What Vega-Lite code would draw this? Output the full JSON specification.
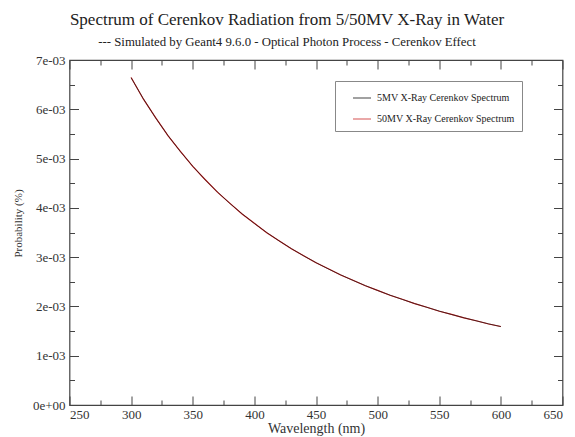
{
  "$schema": "https://vega.github.io/schema/vega-lite/v6.json",
  "width": 493,
  "height": 345,
  "autosize": {"type": "none"},
  "padding": {"left": 69.5, "top": 60, "right": 12.5, "bottom": 32},
  "background": "white",
  "title": {
    "text": "Spectrum of Cerenkov Radiation from 5/50MV X-Ray in Water",
    "subtitle": "--- Simulated by Geant4 9.6.0 - Optical Photon Process - Cerenkov Effect",
    "anchor": "middle",
    "dx": -29,
    "font": "Liberation Serif",
    "fontSize": 17,
    "fontWeight": "normal",
    "color": "#222222",
    "subtitleFont": "Liberation Serif",
    "subtitleFontSize": 12.8,
    "subtitleColor": "#222222",
    "subtitlePadding": 7,
    "offset": 4
  },
  "data": {
    "values": [
      {"wl": 300, "p": 0.006640, "s": "5MV X-Ray Cerenkov Spectrum"},
      {"wl": 310, "p": 0.006210, "s": "5MV X-Ray Cerenkov Spectrum"},
      {"wl": 320, "p": 0.005820, "s": "5MV X-Ray Cerenkov Spectrum"},
      {"wl": 330, "p": 0.005465, "s": "5MV X-Ray Cerenkov Spectrum"},
      {"wl": 340, "p": 0.005141, "s": "5MV X-Ray Cerenkov Spectrum"},
      {"wl": 350, "p": 0.004844, "s": "5MV X-Ray Cerenkov Spectrum"},
      {"wl": 360, "p": 0.004572, "s": "5MV X-Ray Cerenkov Spectrum"},
      {"wl": 370, "p": 0.004322, "s": "5MV X-Ray Cerenkov Spectrum"},
      {"wl": 380, "p": 0.004092, "s": "5MV X-Ray Cerenkov Spectrum"},
      {"wl": 390, "p": 0.003880, "s": "5MV X-Ray Cerenkov Spectrum"},
      {"wl": 400, "p": 0.003683, "s": "5MV X-Ray Cerenkov Spectrum"},
      {"wl": 410, "p": 0.003500, "s": "5MV X-Ray Cerenkov Spectrum"},
      {"wl": 420, "p": 0.003331, "s": "5MV X-Ray Cerenkov Spectrum"},
      {"wl": 430, "p": 0.003173, "s": "5MV X-Ray Cerenkov Spectrum"},
      {"wl": 440, "p": 0.003026, "s": "5MV X-Ray Cerenkov Spectrum"},
      {"wl": 450, "p": 0.002889, "s": "5MV X-Ray Cerenkov Spectrum"},
      {"wl": 460, "p": 0.002761, "s": "5MV X-Ray Cerenkov Spectrum"},
      {"wl": 470, "p": 0.002641, "s": "5MV X-Ray Cerenkov Spectrum"},
      {"wl": 480, "p": 0.002528, "s": "5MV X-Ray Cerenkov Spectrum"},
      {"wl": 490, "p": 0.002423, "s": "5MV X-Ray Cerenkov Spectrum"},
      {"wl": 500, "p": 0.002323, "s": "5MV X-Ray Cerenkov Spectrum"},
      {"wl": 510, "p": 0.002230, "s": "5MV X-Ray Cerenkov Spectrum"},
      {"wl": 520, "p": 0.002142, "s": "5MV X-Ray Cerenkov Spectrum"},
      {"wl": 530, "p": 0.002059, "s": "5MV X-Ray Cerenkov Spectrum"},
      {"wl": 540, "p": 0.001981, "s": "5MV X-Ray Cerenkov Spectrum"},
      {"wl": 550, "p": 0.001906, "s": "5MV X-Ray Cerenkov Spectrum"},
      {"wl": 560, "p": 0.001836, "s": "5MV X-Ray Cerenkov Spectrum"},
      {"wl": 570, "p": 0.001770, "s": "5MV X-Ray Cerenkov Spectrum"},
      {"wl": 580, "p": 0.001707, "s": "5MV X-Ray Cerenkov Spectrum"},
      {"wl": 590, "p": 0.001647, "s": "5MV X-Ray Cerenkov Spectrum"},
      {"wl": 600, "p": 0.001590, "s": "5MV X-Ray Cerenkov Spectrum"},
      {"wl": 300, "p": 0.006645, "s": "50MV X-Ray Cerenkov Spectrum"},
      {"wl": 310, "p": 0.006205, "s": "50MV X-Ray Cerenkov Spectrum"},
      {"wl": 320, "p": 0.005826, "s": "50MV X-Ray Cerenkov Spectrum"},
      {"wl": 330, "p": 0.005460, "s": "50MV X-Ray Cerenkov Spectrum"},
      {"wl": 340, "p": 0.005146, "s": "50MV X-Ray Cerenkov Spectrum"},
      {"wl": 350, "p": 0.004840, "s": "50MV X-Ray Cerenkov Spectrum"},
      {"wl": 360, "p": 0.004576, "s": "50MV X-Ray Cerenkov Spectrum"},
      {"wl": 370, "p": 0.004318, "s": "50MV X-Ray Cerenkov Spectrum"},
      {"wl": 380, "p": 0.004095, "s": "50MV X-Ray Cerenkov Spectrum"},
      {"wl": 390, "p": 0.003877, "s": "50MV X-Ray Cerenkov Spectrum"},
      {"wl": 400, "p": 0.003686, "s": "50MV X-Ray Cerenkov Spectrum"},
      {"wl": 410, "p": 0.003497, "s": "50MV X-Ray Cerenkov Spectrum"},
      {"wl": 420, "p": 0.003334, "s": "50MV X-Ray Cerenkov Spectrum"},
      {"wl": 430, "p": 0.003170, "s": "50MV X-Ray Cerenkov Spectrum"},
      {"wl": 440, "p": 0.003029, "s": "50MV X-Ray Cerenkov Spectrum"},
      {"wl": 450, "p": 0.002886, "s": "50MV X-Ray Cerenkov Spectrum"},
      {"wl": 460, "p": 0.002764, "s": "50MV X-Ray Cerenkov Spectrum"},
      {"wl": 470, "p": 0.002638, "s": "50MV X-Ray Cerenkov Spectrum"},
      {"wl": 480, "p": 0.002531, "s": "50MV X-Ray Cerenkov Spectrum"},
      {"wl": 490, "p": 0.002420, "s": "50MV X-Ray Cerenkov Spectrum"},
      {"wl": 500, "p": 0.002326, "s": "50MV X-Ray Cerenkov Spectrum"},
      {"wl": 510, "p": 0.002227, "s": "50MV X-Ray Cerenkov Spectrum"},
      {"wl": 520, "p": 0.002145, "s": "50MV X-Ray Cerenkov Spectrum"},
      {"wl": 530, "p": 0.002056, "s": "50MV X-Ray Cerenkov Spectrum"},
      {"wl": 540, "p": 0.001984, "s": "50MV X-Ray Cerenkov Spectrum"},
      {"wl": 550, "p": 0.001903, "s": "50MV X-Ray Cerenkov Spectrum"},
      {"wl": 560, "p": 0.001839, "s": "50MV X-Ray Cerenkov Spectrum"},
      {"wl": 570, "p": 0.001767, "s": "50MV X-Ray Cerenkov Spectrum"},
      {"wl": 580, "p": 0.001710, "s": "50MV X-Ray Cerenkov Spectrum"},
      {"wl": 590, "p": 0.001644, "s": "50MV X-Ray Cerenkov Spectrum"},
      {"wl": 600, "p": 0.001593, "s": "50MV X-Ray Cerenkov Spectrum"}
    ]
  },
  "resolve": {"axis": {"x": "independent", "y": "independent"}},
  "layer": [
    {
      "transform": [{"filter": "datum.s == '50MV X-Ray Cerenkov Spectrum'"}],
      "mark": {"type": "line", "strokeWidth": 1.2},
      "encoding": {
        "x": {
          "field": "wl", "type": "quantitative",
          "scale": {"domain": [250, 650], "nice": false, "zero": false},
          "axis": {
            "orient": "top", "title": null, "labels": false, "domain": false,
            "values": [250, 300, 350, 400, 450, 500, 550, 600, 650],
            "tickSize": -9
          }
        },
        "y": {
          "field": "p", "type": "quantitative",
          "scale": {"domain": [0, 0.007], "nice": false},
          "axis": {
            "orient": "right", "title": null, "labels": false, "domain": false,
            "values": [0, 0.001, 0.002, 0.003, 0.004, 0.005, 0.006, 0.007],
            "tickSize": -9
          }
        },
        "color": {
          "field": "s", "type": "nominal",
          "scale": {"domain": ["5MV X-Ray Cerenkov Spectrum", "50MV X-Ray Cerenkov Spectrum"], "range": ["#111111", "#cc2222"]},
          "legend": {
            "orient": "none", "legendX": 265.5, "legendY": 21,
            "title": null,
            "symbolType": "stroke", "symbolStrokeWidth": 1.2, "symbolSize": 324,
            "symbolOffset": 10,
            "strokeColor": "#888888", "padding": 7,
            "labelOffset": 5,
            "labelFont": "Liberation Serif", "labelFontSize": 10, "labelColor": "#222222",
            "rowPadding": 6
          }
        }
      }
    },
    {
      "transform": [{"filter": "datum.s == '5MV X-Ray Cerenkov Spectrum'"}],
      "mark": {"type": "line", "strokeWidth": 1, "opacity": 0.65},
      "encoding": {
        "x": {
          "field": "wl", "type": "quantitative",
          "axis": {
            "orient": "bottom",
            "title": "Wavelength (nm)",
            "values": [250, 300, 350, 400, 450, 500, 550, 600, 650],
            "tickSize": -9,
            "domain": false,
            "labelPadding": 12,
            "titlePadding": 0,
            "titleFontSize": 14
          }
        },
        "y": {
          "field": "p", "type": "quantitative",
          "axis": {
            "orient": "left",
            "title": "Probability (%)",
            "values": [0, 0.001, 0.002, 0.003, 0.004, 0.005, 0.006, 0.007],
            "labelExpr": "datum.value == 0 ? '0e+00' : round(datum.value * 1000) + 'e-03'",
            "tickSize": -9,
            "domain": false,
            "labelPadding": 13.5,
            "titleFontSize": 11,
            "titleX": -51.5,
            "titleY": 163,
            "titleBaseline": "middle",
            "titleAngle": -90
          }
        },
        "color": {"field": "s", "type": "nominal"}
      }
    },
    {
      "mark": {"type": "line", "opacity": 0},
      "encoding": {
        "x": {
          "field": "wl", "type": "quantitative",
          "axis": {
            "orient": "bottom", "title": null, "labels": false, "domain": false,
            "values": [275, 325, 375, 425, 475, 525, 575, 625],
            "tickSize": -5
          }
        },
        "y": {
          "field": "p", "type": "quantitative",
          "axis": {
            "orient": "left", "title": null, "labels": false, "domain": false,
            "values": [0.0005, 0.0015, 0.0025, 0.0035, 0.0045, 0.0055, 0.0065],
            "tickSize": -5
          }
        },
        "detail": {"field": "s", "type": "nominal"}
      }
    },
    {
      "mark": {"type": "line", "opacity": 0},
      "encoding": {
        "x": {
          "field": "wl", "type": "quantitative",
          "axis": {
            "orient": "top", "title": null, "labels": false, "domain": false,
            "values": [275, 325, 375, 425, 475, 525, 575, 625],
            "tickSize": -5
          }
        },
        "y": {
          "field": "p", "type": "quantitative",
          "axis": {
            "orient": "right", "title": null, "labels": false, "domain": false,
            "values": [0.0005, 0.0015, 0.0025, 0.0035, 0.0045, 0.0055, 0.0065],
            "tickSize": -5
          }
        },
        "detail": {"field": "s", "type": "nominal"}
      }
    }
  ],
  "config": {
    "view": {"stroke": "#444444", "strokeWidth": 1.2},
    "axis": {
      "tickColor": "#444444",
      "tickWidth": 1,
      "grid": false,
      "labelFont": "Liberation Serif",
      "labelFontSize": 13,
      "labelColor": "#333333",
      "titleFont": "Liberation Serif",
      "titleFontSize": 12,
      "titleFontWeight": "normal",
      "titleColor": "#333333"
    }
  }
}
